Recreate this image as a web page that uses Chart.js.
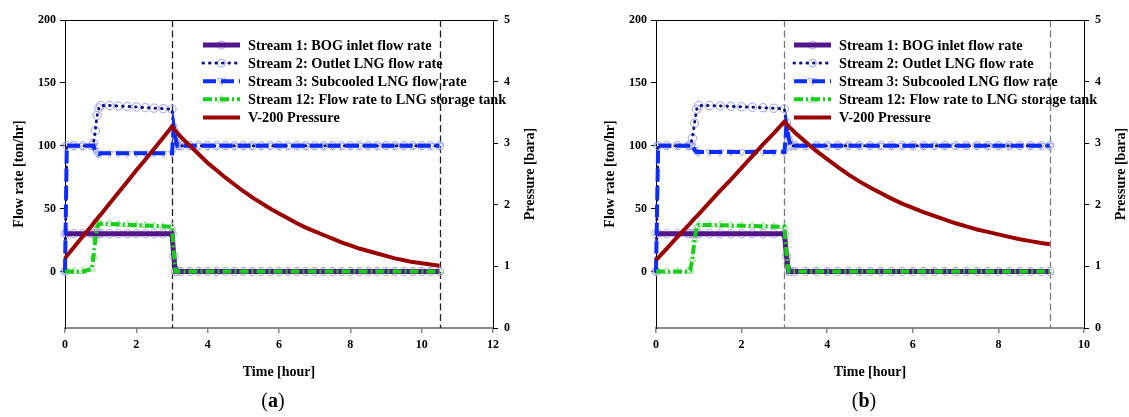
<!DOCTYPE html>
<html>
<head>
<meta charset="utf-8">
<script src="https://cdn.jsdelivr.net/npm/chart.js@4.4.1/dist/chart.umd.min.js"></script>
<style>
  html, body { margin: 0; padding: 0; background: #fff; }
  body { width: 1129px; height: 417px; position: relative; overflow: hidden; }
  canvas { position: absolute; top: 0; }
  #chartA { left: 0; }
  #chartB { left: 591px; }
</style>
</head>
<body>
<canvas id="chartA" width="565" height="417"></canvas>
<canvas id="chartB" width="538" height="417"></canvas>
<script>
const FONT = "'Liberation Serif', 'Times New Roman', serif";

const legendLabels = [
  'Stream 1: BOG inlet flow rate',
  'Stream 2: Outlet LNG flow rate',
  'Stream 3: Subcooled LNG flow rate',
  'Stream 12: Flow rate to LNG storage tank',
  'V-200 Pressure'
];
const flowTicks = [0, 50, 100, 150, 200];
const pressureTicks = [0, 1, 2, 3, 4, 5];
const timeTicksA = [0, 2, 4, 6, 8, 10, 12];
const timeTicksB = [0, 2, 4, 6, 8, 10];
const eventLinesA = [3, 10.5];
const eventLinesB = [3, 9.2];

// ---- case (a) ----
const timeA = [
  0, 0.05, 0.25, 0.5, 0.75,
  0.8, 0.85, 0.9, 0.95, 1,
  1.25, 1.5, 1.75, 2,
  2.25, 2.5, 2.75, 3,
  3.05, 3.1, 3.15,
  3.25, 3.5, 3.75, 4,
  4.25, 4.5, 4.75, 5,
  5.25, 5.5, 5.75, 6,
  6.25, 6.5, 6.75, 7,
  7.25, 7.5, 7.75, 8,
  8.25, 8.5, 8.75, 9,
  9.25, 9.5, 9.75, 10,
  10.25, 10.5
];
const stream1A = [
  30, 30, 30, 30, 30,
  30, 30, 30, 30, 30,
  30, 30, 30, 30,
  30, 30, 30, 30,
  12, 0, 0,
  0, 0, 0, 0,
  0, 0, 0, 0,
  0, 0, 0, 0,
  0, 0, 0, 0,
  0, 0, 0, 0,
  0, 0, 0, 0,
  0, 0, 0, 0,
  0, 0
];
const stream2A = [
  0, 100, 100, 100, 100,
  102, 112, 124, 130, 132,
  132, 131.6, 131.2, 130.8,
  130.3, 129.9, 129.5, 129,
  112, 103, 100,
  100, 100, 100, 100,
  100, 100, 100, 100,
  100, 100, 100, 100,
  100, 100, 100, 100,
  100, 100, 100, 100,
  100, 100, 100, 100,
  100, 100, 100, 100,
  100, 100
];
const stream3A = [
  0, 100, 100, 100, 100,
  100, 96, 94, 93.5, 94,
  94, 94, 94, 94,
  94, 94, 94, 94,
  115, 106, 100,
  100, 100, 100, 100,
  100, 100, 100, 100,
  100, 100, 100, 100,
  100, 100, 100, 100,
  100, 100, 100, 100,
  100, 100, 100, 100,
  100, 100, 100, 100,
  100, 100
];
const stream12A = [
  0, 0, 0, 0, 2,
  12, 26, 35, 38, 38,
  37.8, 37.5, 37.2, 36.9,
  36.6, 36.3, 36, 35.5,
  15, 0, 0,
  0, 0, 0, 0,
  0, 0, 0, 0,
  0, 0, 0, 0,
  0, 0, 0, 0,
  0, 0, 0, 0,
  0, 0, 0, 0,
  0, 0, 0, 0,
  0, 0
];
const pressureA = [
  1.13, 1.17, 1.31, 1.49, 1.66,
  1.70, 1.74, 1.77, 1.81, 1.84,
  2.02, 2.20, 2.38, 2.56,
  2.73, 2.91, 3.09, 3.27,
  3.24, 3.20, 3.17,
  3.10, 2.96, 2.82, 2.68,
  2.56, 2.44, 2.33, 2.22,
  2.12, 2.03, 1.94, 1.86,
  1.78, 1.70, 1.63, 1.57,
  1.51, 1.45, 1.39, 1.34,
  1.29, 1.25, 1.21, 1.17,
  1.13, 1.10, 1.07, 1.05,
  1.03, 1.01
];

// ---- case (b) ----
const timeB = [
  0, 0.05, 0.25, 0.5, 0.75,
  0.8, 0.85, 0.9, 0.95, 1,
  1.25, 1.5, 1.75, 2,
  2.25, 2.5, 2.75, 3,
  3.05, 3.1, 3.15,
  3.25, 3.5, 3.75, 4,
  4.25, 4.5, 4.75, 5,
  5.25, 5.5, 5.75, 6,
  6.25, 6.5, 6.75, 7,
  7.25, 7.5, 7.75, 8,
  8.25, 8.5, 8.75, 9,
  9.2
];
const stream1B = [
  30, 30, 30, 30, 30,
  30, 30, 30, 30, 30,
  30, 30, 30, 30,
  30, 30, 30, 30,
  12, 0, 0,
  0, 0, 0, 0,
  0, 0, 0, 0,
  0, 0, 0, 0,
  0, 0, 0, 0,
  0, 0, 0, 0,
  0, 0, 0, 0,
  0
];
const stream2B = [
  0, 100, 100, 100, 100,
  100, 106, 118, 129, 132,
  132, 131.7, 131.3, 131,
  130.6, 130.2, 129.8, 129.3,
  118, 104, 100,
  100, 100, 100, 100,
  100, 100, 100, 100,
  100, 100, 100, 100,
  100, 100, 100, 100,
  100, 100, 100, 100,
  100, 100, 100, 100,
  100
];
const stream3B = [
  0, 100, 100, 100, 100,
  100, 100, 97, 95, 95,
  95, 95, 95, 95,
  95, 95, 95, 95,
  116, 106, 100,
  100, 100, 100, 100,
  100, 100, 100, 100,
  100, 100, 100, 100,
  100, 100, 100, 100,
  100, 100, 100, 100,
  100, 100, 100, 100,
  100
];
const stream12B = [
  0, 0, 0, 0, 0,
  1, 10, 25, 35, 37,
  37, 36.8, 36.6, 36.4,
  36.2, 36, 35.7, 35.4,
  14, 0, 0,
  0, 0, 0, 0,
  0, 0, 0, 0,
  0, 0, 0, 0,
  0, 0, 0, 0,
  0, 0, 0, 0,
  0, 0, 0, 0,
  0
];
const pressureB = [
  1.10, 1.14, 1.29, 1.48, 1.66,
  1.70, 1.74, 1.78, 1.81, 1.85,
  2.04, 2.23, 2.41, 2.60,
  2.79, 2.98, 3.16, 3.35,
  3.31, 3.27, 3.24,
  3.17, 3.02, 2.87, 2.74,
  2.61, 2.49, 2.38, 2.28,
  2.19, 2.10, 2.02, 1.95,
  1.88, 1.82, 1.76, 1.70,
  1.65, 1.60, 1.56, 1.52,
  1.48, 1.44, 1.41, 1.38,
  1.36
];

// line look for each series (same order as legendLabels)
const styles = [
  { color: '#52168a', width: 5, dash: [], cap: 'butt', marker: 'circle', markerColor: '#b4a2dc' },
  { color: '#12127f', width: 3, dash: [0.5, 6], cap: 'round', marker: 'circle', markerColor: '#9c9ef0' },
  { color: '#0d2dff', width: 4, dash: [13, 5], cap: 'butt', marker: 'triangleDown', markerColor: '#a2acf6' },
  { color: '#1ccc1c', width: 4, dash: [9, 3, 2, 3], cap: 'butt', marker: 'triangle', markerColor: '#98e298' },
  { color: '#990000', width: 4, dash: [], cap: 'butt', marker: null }
];

function pts(times, vals) {
  return times.map((t, i) => ({ x: t, y: vals[i] }));
}

function drawMarker(ctx, kind, x, y, r, color) {
  ctx.save();
  ctx.setLineDash([]);
  ctx.strokeStyle = color;
  ctx.lineWidth = 1;
  ctx.beginPath();
  if (kind === 'circle') {
    ctx.arc(x, y, r, 0, Math.PI * 2);
  } else if (kind === 'triangle') {
    ctx.moveTo(x, y - r); ctx.lineTo(x + r, y + r * 0.7); ctx.lineTo(x - r, y + r * 0.7); ctx.closePath();
  } else {
    ctx.moveTo(x, y + r); ctx.lineTo(x + r, y - r * 0.7); ctx.lineTo(x - r, y - r * 0.7); ctx.closePath();
  }
  ctx.stroke();
  ctx.restore();
}

const decor = {
  id: 'decor',
  beforeDatasetsDraw(chart, args, opts) {
    const { ctx, chartArea: a, scales: { x } } = chart;
    ctx.save();
    ctx.strokeStyle = opts.eventColor;
    ctx.lineWidth = 1.3;
    ctx.setLineDash([7, 3.5]);
    opts.eventLines.forEach(t => {
      const px = Math.round(x.getPixelForValue(t)) + 0.5;
      ctx.beginPath(); ctx.moveTo(px, a.top); ctx.lineTo(px, a.bottom); ctx.stroke();
    });
    ctx.restore();
  },
  afterDraw(chart, args, opts) {
    const { ctx, chartArea: a } = chart;
    ctx.save();
    // top frame line
    ctx.strokeStyle = '#000';
    ctx.lineWidth = 1;
    ctx.beginPath(); ctx.moveTo(a.left, a.top + 0.5); ctx.lineTo(a.right, a.top + 0.5); ctx.stroke();

    // axis titles
    ctx.fillStyle = '#000';
    ctx.font = 'bold 14px ' + FONT;
    ctx.textAlign = 'center';
    ctx.textBaseline = 'middle';
    const midX = (a.left + a.right) / 2, midY = (a.top + a.bottom) / 2;
    ctx.fillText('Time [hour]', midX, 372);
    ctx.save(); ctx.translate(19, midY); ctx.rotate(-Math.PI / 2);
    ctx.fillText('Flow rate [ton/hr]', 0, 0); ctx.restore();
    ctx.save(); ctx.translate(a.right + 37, midY); ctx.rotate(-Math.PI / 2);
    ctx.fillText('Pressure [bara]', 0, 0); ctx.restore();

    // legend
    ctx.textAlign = 'left';
    legendLabels.forEach((label, i) => {
      const s = styles[i];
      const y = a.top + 25 + i * 18.1;
      const x0 = a.left + 138, x1 = a.left + 175;
      if (s.marker) drawMarker(ctx, s.marker, (x0 + x1) / 2, y, 4, s.markerColor);
      ctx.save();
      ctx.strokeStyle = s.color; ctx.lineWidth = s.width; ctx.lineCap = s.cap;
      ctx.setLineDash(s.dash);
      ctx.beginPath(); ctx.moveTo(x0, y); ctx.lineTo(x1, y); ctx.stroke();
      ctx.restore();
      ctx.font = 'bold 14.3px ' + FONT;
      ctx.fillText(label, a.left + 183, y + 1);
    });

    // panel label, e.g. (a)
    const parts = [['(', '20px '], [opts.panel, 'bold 20px '], [')', '20px ']];
    let w = 0;
    parts.forEach(p => { ctx.font = p[1] + FONT; w += ctx.measureText(p[0]).width; });
    let px = midX - 6 - w / 2;
    parts.forEach(p => { ctx.font = p[1] + FONT; ctx.fillText(p[0], px, 402); px += ctx.measureText(p[0]).width; });
    ctx.restore();
  }
};

function buildChart(id, times, series, xMax, timeTicks, eventLines, eventColor, panel, rightWidth) {
  const datasets = [];
  series.forEach((vals, i) => {
    const s = styles[i];
    datasets.push({
      label: legendLabels[i],
      data: pts(times, vals),
      yAxisID: i === 4 ? 'y1' : 'y',
      borderColor: s.color,
      borderWidth: s.width,
      borderDash: s.dash,
      borderCapStyle: s.cap,
      pointRadius: 0,
      tension: 0,
      fill: false,
      clip: false,
      order: 5 - i
    });
    if (s.marker) {
      datasets.push({
        label: legendLabels[i] + ' markers',
        data: pts(times, vals),
        yAxisID: 'y',
        showLine: false,
        pointStyle: s.marker === 'triangleDown' ? 'triangle' : s.marker,
        rotation: s.marker === 'triangleDown' ? 180 : 0,
        pointRadius: 4.2,
        pointBorderWidth: 1,
        pointBorderColor: s.markerColor,
        pointBackgroundColor: 'rgba(0,0,0,0)',
        clip: false,
        order: 10 + i
      });
    }
  });

  const tickFont = { family: FONT, size: 12, weight: 'bold' };
  return new Chart(document.getElementById(id), {
    type: 'line',
    data: { datasets },
    options: {
      responsive: false,
      animation: false,
      events: [],
      layout: { padding: { top: 20, left: 0, right: 0, bottom: 0 } },
      plugins: {
        legend: { display: false },
        tooltip: { enabled: false },
        decor: { eventLines, eventColor, panel }
      },
      scales: {
        x: {
          type: 'linear', min: 0, max: xMax,
          afterBuildTicks: sc => { sc.ticks = timeTicks.map(v => ({ value: v })); },
          afterFit: sc => { sc.height = 89; },
          ticks: { font: tickFont, color: '#000', padding: 5, maxRotation: 0 },
          grid: { drawOnChartArea: false, tickLength: 5, color: '#8a8a8a', lineWidth: 1.5 },
          border: { color: '#8a8a8a', width: 2 }
        },
        y: {
          type: 'linear', position: 'left', min: -45, max: 200,
          afterBuildTicks: sc => { sc.ticks = flowTicks.map(v => ({ value: v })); },
          afterFit: sc => { sc.width = 65; },
          ticks: { font: tickFont, color: '#000', padding: 4 },
          grid: { drawOnChartArea: false, tickLength: 5, color: '#000' },
          border: { color: '#000', width: 1 }
        },
        y1: {
          type: 'linear', position: 'right', min: 0, max: 5,
          afterBuildTicks: sc => { sc.ticks = pressureTicks.map(v => ({ value: v })); },
          afterFit: sc => { sc.width = rightWidth; },
          ticks: { font: tickFont, color: '#000', padding: 6 },
          grid: { drawOnChartArea: false, tickLength: 5, color: '#000' },
          border: { color: '#000', width: 1 }
        }
      }
    },
    plugins: [decor]
  });
}

buildChart('chartA', timeA, [stream1A, stream2A, stream3A, stream12A, pressureA],
  12, timeTicksA, eventLinesA, '#222', 'a', 72);
buildChart('chartB', timeB, [stream1B, stream2B, stream3B, stream12B, pressureB],
  10, timeTicksB, eventLinesB, '#7a7a7a', 'b', 45);
</script>
</body>
</html>
